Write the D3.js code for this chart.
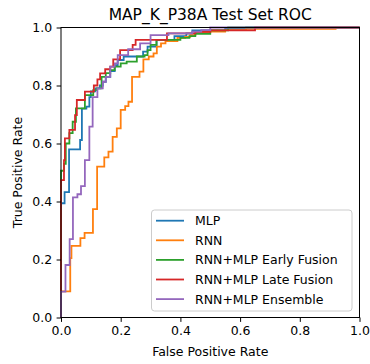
<!DOCTYPE html>
<html><head><meta charset="utf-8">
<script src="https://cdn.jsdelivr.net/npm/d3@7"></script>
<style>body{margin:0;background:#fff}svg{display:block}text{font-family:"DejaVu Sans",sans-serif}</style>
</head><body><svg id="c" width="370" height="364"></svg>
<script>
const title = "MAP_K_P38A Test Set ROC";
const xLabel = "False Positive Rate";
const yLabel = "True Positive Rate";
const tickValues = [0, 0.2, 0.4, 0.6, 0.8, 1.0];
const seriesNames = ["MLP", "RNN", "RNN+MLP Early Fusion", "RNN+MLP Late Fusion", "RNN+MLP Ensemble"];
const seriesColors = ["#1f77b4", "#ff7f0e", "#2ca02c", "#d62728", "#9467bd"];
// step points [fpr, tpr]: horizontal to fpr, then vertical to tpr
const mlp = [[0,0],[0,0.394],[0.012,0.432],[0.027,0.58],[0.064,0.612],[0.07,0.72],[0.085,0.727],[0.095,0.76],[0.1,0.78],[0.115,0.79],[0.13,0.8],[0.14,0.813],[0.15,0.83],[0.165,0.85],[0.18,0.87],[0.19,0.888],[0.21,0.9],[0.275,0.917],[0.29,0.934],[0.32,0.957],[0.38,0.97],[0.42,0.98],[0.44,0.99],[0.55,0.995],[0.62,1.0],[1,1]];
const rnn = [[0,0],[0,0.09],[0.031,0.205],[0.035,0.247],[0.065,0.274],[0.079,0.292],[0.107,0.374],[0.121,0.52],[0.145,0.552],[0.159,0.572],[0.173,0.623],[0.187,0.652],[0.2,0.716],[0.215,0.729],[0.226,0.744],[0.238,0.83],[0.263,0.848],[0.276,0.89],[0.294,0.9],[0.31,0.911],[0.321,0.934],[0.335,0.945],[0.35,0.953],[0.39,0.964],[0.416,0.968],[0.433,0.974],[0.45,0.982],[0.5,0.986],[0.55,0.991],[0.62,0.995],[0.92,1.0],[1,1]];
const early = [[0,0],[0,0.506],[0.01,0.53],[0.016,0.6],[0.028,0.636],[0.039,0.675],[0.05,0.721],[0.08,0.767],[0.108,0.784],[0.12,0.79],[0.136,0.83],[0.15,0.843],[0.165,0.853],[0.18,0.865],[0.2,0.876],[0.22,0.882],[0.254,0.9],[0.28,0.905],[0.29,0.922],[0.3,0.94],[0.32,0.957],[0.4,0.964],[0.43,0.97],[0.45,0.978],[0.5,0.99],[0.56,1.0],[1,1]];
const late = [[0,0],[0,0.474],[0.01,0.543],[0.013,0.618],[0.028,0.647],[0.047,0.698],[0.053,0.75],[0.08,0.779],[0.11,0.8],[0.122,0.821],[0.131,0.842],[0.148,0.856],[0.165,0.865],[0.175,0.89],[0.198,0.922],[0.24,0.94],[0.25,0.957],[0.355,0.98],[0.45,0.985],[0.5,0.99],[0.65,1.0],[1,1]];
const ensemble = [[0,0],[0,0.089],[0.015,0.181],[0.029,0.27],[0.04,0.414],[0.055,0.425],[0.067,0.453],[0.08,0.543],[0.095,0.658],[0.106,0.76],[0.122,0.79],[0.14,0.813],[0.15,0.83],[0.165,0.865],[0.18,0.876],[0.19,0.905],[0.225,0.925],[0.265,0.945],[0.3,0.974],[0.36,0.98],[0.44,0.986],[0.47,0.991],[0.5,1.0],[1,1]];
const seriesData = [mlp, rnn, early, late, ensemble];

const svg = d3.select("#c");
const L = 61, R = 359.5, T = 27.5, B = 317.5;
const FS = 12.5;
const x = d3.scaleLinear().domain([0,1]).range([L,R]);
const y = d3.scaleLinear().domain([0,1]).range([B,T]);

svg.append("defs").append("clipPath").attr("id","pc").append("rect")
  .attr("x",L-2).attr("y",T-2).attr("width",R-L+4).attr("height",B-T+4);

const line = d3.line().x(d=>x(d[0])).y(d=>y(d[1])).curve(d3.curveStepAfter);
const g = svg.append("g").attr("clip-path","url(#pc)");
seriesData.forEach((s,i)=>{
  g.append("path").datum(s).attr("d",line).attr("fill","none")
   .attr("stroke",seriesColors[i]).attr("stroke-width",1.8).attr("stroke-linejoin","miter");
});

const fmt = d3.format(".1f");
const xa = svg.append("g").attr("transform",`translate(0,${B})`)
  .call(d3.axisBottom(x).tickValues(tickValues).tickFormat(fmt).tickSize(4.4).tickPadding(4.4));
const ya = svg.append("g").attr("transform",`translate(${L},0)`)
  .call(d3.axisLeft(y).tickValues(tickValues).tickFormat(fmt).tickSize(4.4).tickPadding(4.4));
[xa,ya].forEach(a=>{
  a.select(".domain").remove();
  a.selectAll("line").attr("stroke","#000").attr("stroke-width",1);
  a.selectAll("text").attr("font-size",FS).attr("fill","#000").attr("font-family","DejaVu Sans");
});
svg.append("rect").attr("x",L).attr("y",T).attr("width",R-L).attr("height",B-T)
  .attr("fill","none").attr("stroke","#000").attr("stroke-width",1);

svg.append("text").attr("x",(L+R)/2).attr("y",19.5).attr("text-anchor","middle")
  .attr("font-size",15.5).text(title);
svg.append("text").attr("x",(L+R)/2).attr("y",356).attr("text-anchor","middle")
  .attr("font-size",FS).text(xLabel);
svg.append("text").attr("transform",`translate(22,${(T+B)/2}) rotate(-90)`).attr("text-anchor","middle")
  .attr("font-size",FS).text(yLabel);

const lg = svg.append("g");
lg.append("rect").attr("x",151.5).attr("y",210).attr("width",200.5).attr("height",101).attr("rx",3)
  .attr("fill","#fff").attr("fill-opacity",0.8).attr("stroke","#ccc").attr("stroke-width",1);
seriesNames.forEach((n,i)=>{
  const yy = 220.7 + i*19.6;
  lg.append("line").attr("x1",156).attr("x2",184).attr("y1",yy).attr("y2",yy)
    .attr("stroke",seriesColors[i]).attr("stroke-width",1.8);
  lg.append("text").attr("x",195).attr("y",yy+4.5).attr("font-size",FS).text(n);
});
</script></body></html>
